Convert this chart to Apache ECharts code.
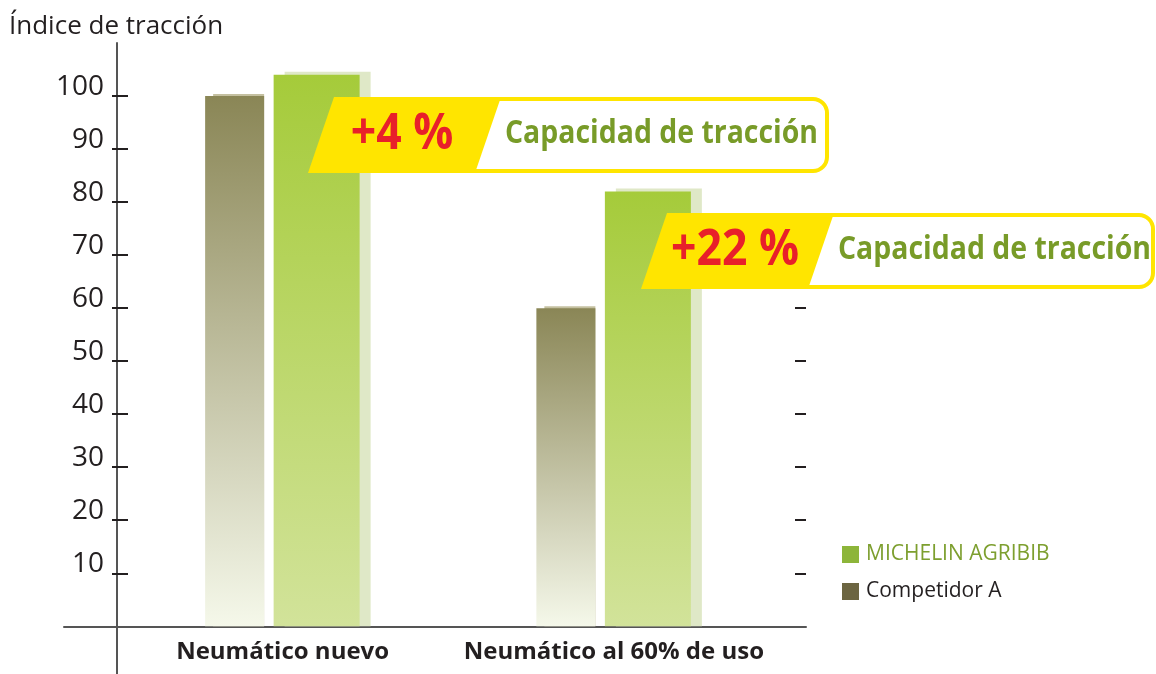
<!DOCTYPE html>
<html>
<head>
<meta charset="utf-8">
<script src="https://cdn.jsdelivr.net/npm/echarts@6/dist/echarts.min.js"></script>
<style>
  html, body { margin: 0; padding: 0; background: #fff; }
  #chart { width: 1156px; height: 674px; }
</style>
</head>
<body>
<div id="chart"></div>
<script>
// ── Índice de tracción: MICHELIN AGRIBIB vs Competidor A ──

const categories = ['Neumático nuevo', 'Neumático al 60% de uso'];
const michelin = [104, 82];
const competidor = [100, 60];
const gains = ['+4 %', '+22 %'];
const gainText = 'Capacidad de tracción';
const yTicks = [10, 20, 30, 40, 50, 60, 70, 80, 90, 100];
const rightTicks = [10, 20, 30, 40, 50, 60];

const FONT = '"Open Sans", "Noto Sans", sans-serif';
const INK = '#231f20';
const AXIS = '#555555';
const YELLOW = '#ffe500';

// measure text so the "condensed" callout lettering can be squeezed to fit
const measureCtx = document.createElement('canvas').getContext('2d');
function textWidth(text, font) {
  measureCtx.font = font;
  return measureCtx.measureText(text).width;
}

function barRenderer(opt) {
  return function (params, api) {
    const top = api.coord([api.value(0), api.value(1)]);
    const base = api.coord([api.value(0), 0]);
    const x = top[0] + opt.offset - opt.width / 2;
    const h = base[1] - top[1];
    return {
      type: 'group',
      children: [
        {
          type: 'rect',
          shape: { x: x + opt.shadow.dx, y: top[1] - opt.shadow.dy, width: opt.width - opt.shadow.trim, height: h + opt.shadow.dy },
          style: { fill: opt.shadow.color }
        },
        {
          type: 'rect',
          shape: { x: x, y: top[1], width: opt.width, height: h },
          style: {
            fill: new echarts.graphic.LinearGradient(0, 0, 0, 1, [
              { offset: 0, color: opt.top },
              { offset: 1, color: opt.bottom }
            ])
          }
        }
      ]
    };
  };
}

const pctFont = 'bold 50px ' + FONT;
const capFont = 'bold 33px ' + FONT;
const pctScale = 128 / textWidth(gains[1], pctFont);
const capScale = 313 / textWidth(gainText, capFont);

function callout(x, y, right, gain) {
  const h = 76, slant = 26, yw = 167;
  const boxLeft = x + yw - slant - 10;
  return [
    {
      type: 'rect', z: 100,
      shape: { x: boxLeft, y: y + 2, width: right - boxLeft - 2, height: h - 4, r: [0, 14, 14, 0] },
      style: { fill: '#fff', stroke: YELLOW, lineWidth: 4 }
    },
    {
      type: 'polygon', z: 101,
      shape: { points: [[x, y], [x + yw, y], [x + yw - slant, y + h], [x - slant, y + h]] },
      style: { fill: YELLOW }
    },
    {
      type: 'text', z: 102, x: x + 68, y: y + 38, scaleX: pctScale,
      style: { text: gain, font: pctFont, fill: '#e8202a', align: 'center', verticalAlign: 'middle', textAlign: 'center', textVerticalAlign: 'middle' }
    },
    {
      type: 'text', z: 102, x: x + 171, y: y + 37, scaleX: capScale,
      style: { text: gainText, font: capFont, fill: '#789b28', align: 'left', verticalAlign: 'middle', textAlign: 'left', textVerticalAlign: 'middle' }
    }
  ];
}

const chart = echarts.init(document.getElementById('chart'));

const bare = { axisLine: { show: false }, axisTick: { show: false }, axisLabel: { show: false }, splitLine: { show: false } };

chart.setOption({
  backgroundColor: '#fff',
  animation: false,
  title: {
    text: 'Índice de tracción',
    left: 4, top: 9,
    textStyle: { fontFamily: FONT, fontSize: 26, fontWeight: 'normal', color: INK }
  },
  legend: {
    orient: 'vertical',
    left: 842, top: 544, padding: 0,
    itemWidth: 17, itemHeight: 17, itemGap: 16,
    selectedMode: false,
    icon: 'rect',
    textStyle: { fontFamily: FONT, fontSize: 21, color: INK, padding: [0, 0, 0, 2] },
    data: [
      { name: 'MICHELIN AGRIBIB', itemStyle: { color: '#8db53a' }, textStyle: { color: '#7d9f2f' } },
      { name: 'Competidor A', itemStyle: { color: '#6c6541' } }
    ]
  },
  grid: [
    // data grid
    { left: 117, top: 43, width: 662.5, height: 583.3, outerBoundsMode: 'none' },
    // long baseline
    { left: 64, top: 43, width: 742, height: 583.3, outerBoundsMode: 'none' },
    // y axis line running below the baseline
    { left: 117, top: 43, width: 662.5, height: 631, outerBoundsMode: 'none' }
  ],
  xAxis: [
    {
      type: 'category', gridIndex: 0, data: categories,
      axisLine: { show: true, lineStyle: { color: AXIS, width: 2 } },
      axisTick: { show: false },
      axisLabel: { interval: 0, hideOverlap: false, fontFamily: FONT, fontSize: 24, fontWeight: 'bold', color: INK, margin: 14 },
      splitLine: { show: false }
    },
    {
      type: 'value', gridIndex: 1, min: 0, max: 1,
      axisLine: { show: true, lineStyle: { color: AXIS, width: 2 } },
      axisTick: { show: false }, axisLabel: { show: false }, splitLine: { show: false }
    },
    Object.assign({ type: 'value', gridIndex: 2, min: 0, max: 1 }, bare)
  ],
  yAxis: [
    {
      type: 'value', gridIndex: 0, min: 0, max: 110, position: 'left',
      axisLine: { show: false },
      axisTick: { show: true, length: 5, customValues: yTicks, lineStyle: { color: INK, width: 2 } },
      axisLabel: { customValues: yTicks, fontFamily: FONT, fontSize: 28, color: INK, margin: 13, verticalAlign: 'bottom', lineHeight: 18 },
      splitLine: { show: false }
    },
    {
      type: 'value', gridIndex: 0, min: 0, max: 110, position: 'left',
      axisLine: { show: false },
      axisTick: { show: true, inside: true, length: 11, customValues: yTicks, lineStyle: { color: INK, width: 2 } },
      axisLabel: { show: false }, splitLine: { show: false }
    },
    {
      type: 'value', gridIndex: 0, min: 0, max: 110, position: 'right', offset: 26.5,
      axisLine: { show: false },
      axisTick: { show: true, inside: true, length: 11, customValues: rightTicks, lineStyle: { color: INK, width: 2 } },
      axisLabel: { show: false }, splitLine: { show: false }
    },
    Object.assign({ type: 'value', gridIndex: 1, min: 0, max: 1, position: 'left' }, bare),
    {
      type: 'value', gridIndex: 2, min: 0, max: 1, position: 'left',
      axisLine: { show: true, lineStyle: { color: AXIS, width: 2 } },
      axisTick: { show: false }, axisLabel: { show: false }, splitLine: { show: false }
    }
  ],
  series: [
    {
      name: 'Competidor A', type: 'custom', xAxisIndex: 0, yAxisIndex: 0,
      itemStyle: { color: '#6c6541' },
      renderItem: barRenderer({
        offset: -48, width: 59, top: '#8a8656', bottom: '#f5f8ea',
        shadow: { dx: 8, dy: 2, trim: 8, color: '#c4c0a0' }
      }),
      data: categories.map((c, i) => [i, competidor[i]])
    },
    {
      name: 'MICHELIN AGRIBIB', type: 'custom', xAxisIndex: 0, yAxisIndex: 0,
      itemStyle: { color: '#8db53a' },
      renderItem: barRenderer({
        offset: 34, width: 86, top: '#a5cb3a', bottom: '#d2e39a',
        shadow: { dx: 11, dy: 3, trim: 0, color: '#dfe8c7' }
      }),
      data: categories.map((c, i) => [i, michelin[i]])
    }
  ],
  graphic: [].concat(
    callout(334, 97, 829, gains[0]),
    callout(667, 213, 1155, gains[1])
  )
});
</script>
</body>
</html>
